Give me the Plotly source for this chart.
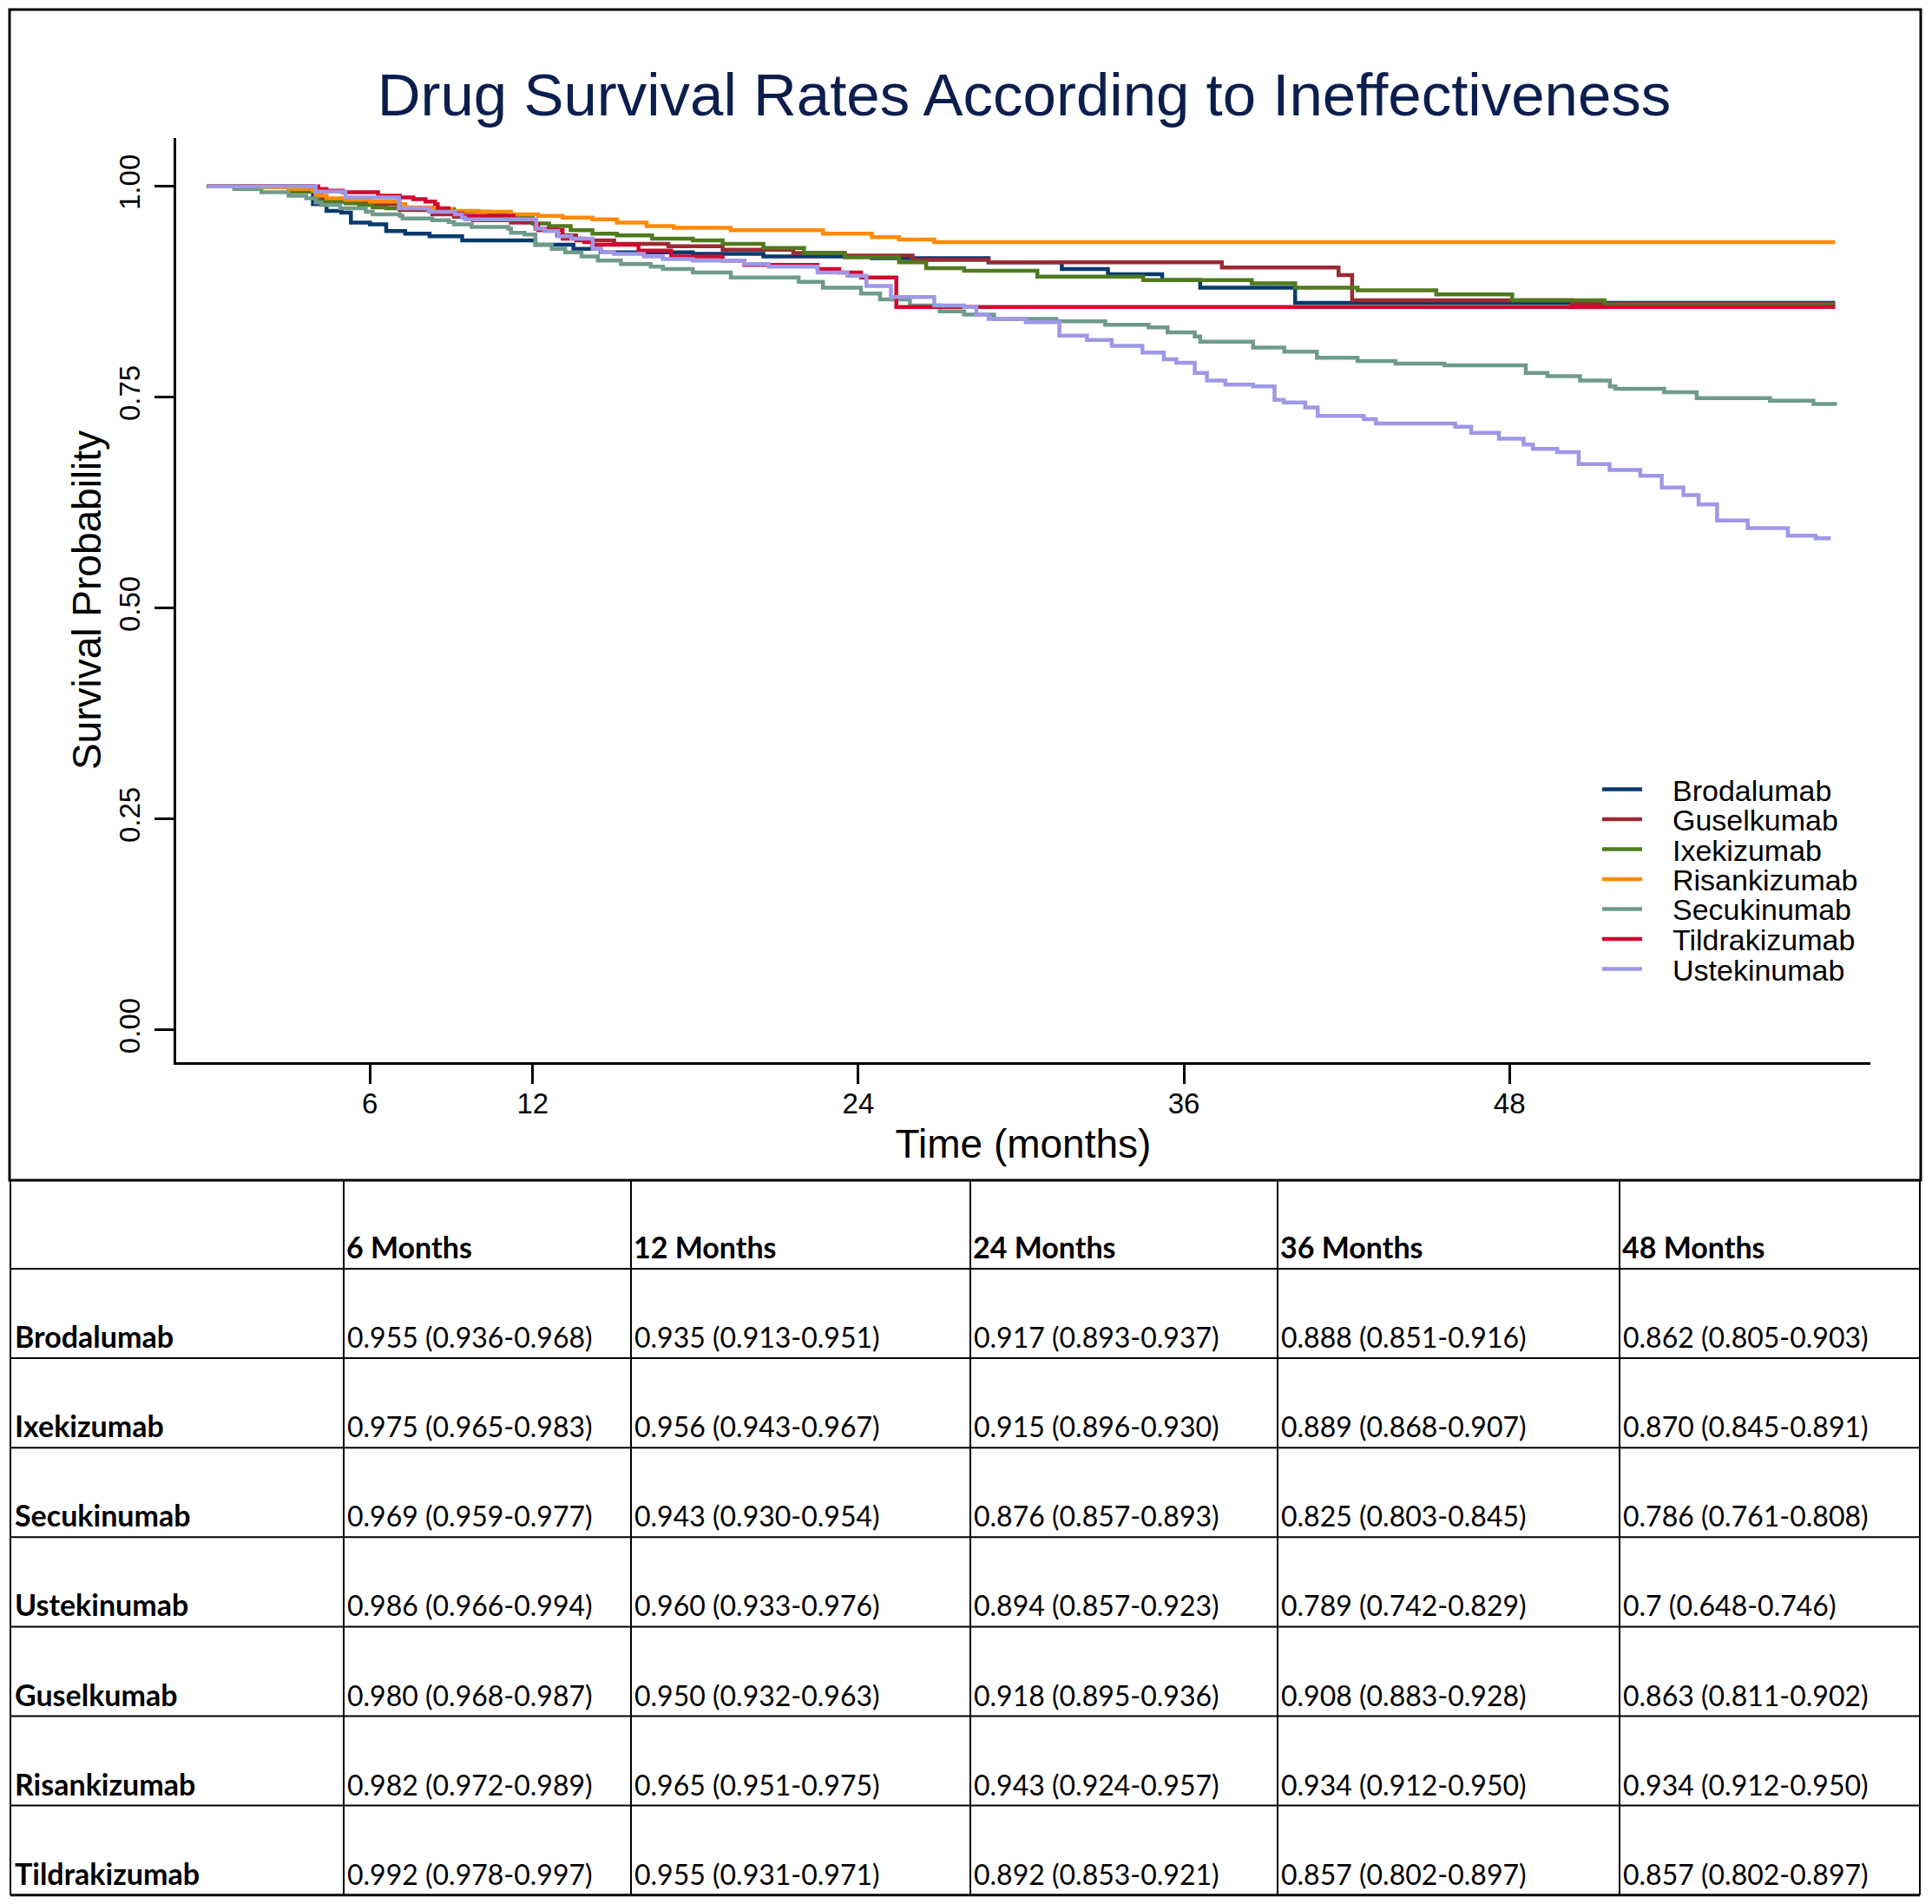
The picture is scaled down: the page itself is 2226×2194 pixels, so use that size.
import plotly.graph_objects as go

W, H = 2226, 2194          # browser window
OFF = 8                    # default body margin of the html page
FW, FH = W - 2 * OFF, H - 2 * OFF

# ---------------- survival curve data (time in months, survival probability) ----------------
drugs = ["Brodalumab", "Guselkumab", "Ixekizumab", "Risankizumab",
         "Secukinumab", "Tildrakizumab", "Ustekinumab"]
colors = ["#073a6e", "#9c2a33", "#4f7a1e", "#ff8a0a", "#6f9a8c", "#d4072e", "#9f98e6"]

brod_t = [0, 3.9, 4.4, 4.95, 5.3, 6.0, 6.6, 7.3, 8.2, 9.4, 12.1, 13.5, 14.5, 17.9, 20.5, 24.5,
          28.8, 31.5, 33.2, 35.2, 36.6, 40.1, 60.0]
brod_s = [1.0, 0.979, 0.971, 0.969, 0.957, 0.955, 0.947, 0.944, 0.941, 0.936, 0.931, 0.926, 0.922,
          0.920, 0.917, 0.915, 0.910, 0.902, 0.896, 0.889, 0.880, 0.862, 0.862]

gus_t = [0, 2.1, 3.0, 4.0, 4.2, 5.0, 6.1, 7.1, 8.3, 9.1, 9.8, 11.2, 12.1, 12.9, 13.6, 15.0, 17.0,
         19.0, 21.6, 23.5, 26.0, 28.8, 37.4, 41.7, 42.2, 50.3, 60.0]
gus_s = [1.0, 0.999, 0.997, 0.990, 0.985, 0.982, 0.979, 0.972, 0.967, 0.964, 0.960, 0.957, 0.950,
         0.942, 0.936, 0.932, 0.929, 0.925, 0.921, 0.918, 0.913, 0.910, 0.904, 0.895, 0.865, 0.861, 0.861]

ixe_t = [0, 1.0, 3.0, 4.0, 4.1, 5.1, 5.6, 6.1, 6.6, 8.3, 9.1, 10.4, 11.2, 12.0, 12.6, 13.4, 14.2,
         15.1, 16.4, 17.9, 19.0, 20.5, 22.0, 23.5, 25.5, 26.5, 27.9, 30.6, 34.5, 38.5, 40.1, 42.4,
         45.3, 48.1, 51.5, 60.0]
ixe_s = [1.0, 0.999, 0.994, 0.991, 0.982, 0.980, 0.978, 0.975, 0.974, 0.973, 0.970, 0.967, 0.964,
         0.956, 0.953, 0.948, 0.944, 0.942, 0.938, 0.936, 0.932, 0.927, 0.921, 0.916, 0.910, 0.903,
         0.900, 0.893, 0.889, 0.885, 0.880, 0.877, 0.872, 0.865, 0.860, 0.860]

ris_t = [0, 2.1, 3.0, 3.9, 4.0, 4.4, 5.1, 6.0, 7.1, 7.3, 8.3, 9.0, 10.0, 11.2, 12.2, 13.1, 14.2,
         15.1, 16.2, 17.2, 19.3, 22.7, 24.5, 25.5, 26.8, 60.0]
ris_s = [1.0, 0.999, 0.997, 0.995, 0.989, 0.986, 0.984, 0.982, 0.979, 0.975, 0.973, 0.971, 0.970,
         0.967, 0.965, 0.963, 0.961, 0.957, 0.953, 0.951, 0.948, 0.944, 0.940, 0.937, 0.934, 0.934]

sec_t = [0, 1.0, 2.0, 3.0, 3.65, 4.0, 4.2, 4.9, 5.85, 6.1, 7.1, 7.2, 8.3, 8.9, 9.1, 9.75, 11.1,
         11.2, 11.7, 12.1, 12.7, 13.2, 13.8, 14.4, 15.25, 16.35, 16.8, 17.9, 19.3, 21.8, 22.7, 24.1,
         24.8, 25.9, 27.0, 27.9, 29.0, 31.3, 33.1, 34.7, 35.4, 36.4, 36.6, 38.55, 39.7, 40.9, 42.4,
         43.8, 45.6, 48.6, 49.4, 50.6, 51.7, 51.9, 53.7, 54.9, 57.6, 59.2, 60.0]
sec_s = [1.0, 0.997, 0.993, 0.989, 0.986, 0.981, 0.978, 0.974, 0.970, 0.967, 0.965, 0.962, 0.960,
         0.958, 0.955, 0.952, 0.950, 0.945, 0.943, 0.931, 0.926, 0.922, 0.917, 0.912, 0.908, 0.905,
         0.902, 0.898, 0.892, 0.887, 0.880, 0.873, 0.866, 0.859, 0.852, 0.848, 0.843, 0.840, 0.836,
         0.833, 0.827, 0.822, 0.816, 0.809, 0.804, 0.797, 0.793, 0.790, 0.788, 0.779, 0.775, 0.770,
         0.763, 0.760, 0.756, 0.749, 0.746, 0.742, 0.740]

til_t = [0, 4.1, 4.4, 5.0, 6.3, 7.1, 7.6, 8.05, 8.4, 8.5, 8.9, 9.1, 9.4, 11.3, 12.1, 12.2, 13.1,
         13.9, 14.2, 15.9, 17.1, 19.0, 19.8, 22.5, 23.3, 24.1, 25.4, 60.0]
til_s = [1.0, 0.997, 0.995, 0.993, 0.989, 0.987, 0.985, 0.982, 0.979, 0.974, 0.970, 0.968, 0.965,
         0.960, 0.955, 0.948, 0.938, 0.934, 0.931, 0.924, 0.917, 0.912, 0.907, 0.902, 0.898, 0.892,
         0.857, 0.857]

ust_t = [0, 4.0, 5.1, 7.07, 8.17, 9.14, 9.39, 9.51, 12.13, 12.44, 12.93, 13.42, 14.21, 14.52, 15.0,
         16.1, 16.8, 17.9, 19.8, 20.7, 22.5, 23.6, 24.3, 25.2, 26.8, 27.9, 28.35, 28.8, 30.17, 31.41,
         32.43, 33.34, 34.47, 35.26, 35.72, 36.4, 36.85, 37.53, 38.55, 39.34, 39.68, 40.47, 40.93,
         42.63, 43.08, 46.0, 46.59, 47.61, 48.52, 48.86, 49.76, 50.55, 51.69, 52.82, 53.61, 54.41,
         54.97, 55.65, 56.78, 58.26, 59.28, 59.84]
ust_s = [1.0, 0.994, 0.987, 0.974, 0.970, 0.967, 0.963, 0.961, 0.950, 0.947, 0.941, 0.938, 0.926,
         0.922, 0.920, 0.917, 0.914, 0.912, 0.908, 0.905, 0.898, 0.894, 0.882, 0.869, 0.859, 0.857,
         0.848, 0.843, 0.839, 0.823, 0.818, 0.811, 0.803, 0.795, 0.791, 0.779, 0.770, 0.765, 0.763,
         0.747, 0.744, 0.738, 0.728, 0.724, 0.719, 0.715, 0.708, 0.701, 0.694, 0.689, 0.685, 0.671,
         0.664, 0.657, 0.643, 0.634, 0.623, 0.604, 0.595, 0.586, 0.583, 0.583]

curve_times = [brod_t, gus_t, ixe_t, ris_t, sec_t, til_t, ust_t]
curve_surv = [brod_s, gus_s, ixe_s, ris_s, sec_s, til_s, ust_s]

x_ticks = [6, 12, 24, 36, 48]
y_ticks = [0.0, 0.25, 0.50, 0.75, 1.00]
y_ticklabels = ["0.00", "0.25", "0.50", "0.75", "1.00"]

# ---------------- table data ----------------
table_header = ["6 Months", "12 Months", "24 Months", "36 Months", "48 Months"]
table_rows = ["Brodalumab", "Ixekizumab", "Secukinumab", "Ustekinumab",
              "Guselkumab", "Risankizumab", "Tildrakizumab"]
brod_row = ["0.955 (0.936-0.968)", "0.935 (0.913-0.951)", "0.917 (0.893-0.937)", "0.888 (0.851-0.916)", "0.862 (0.805-0.903)"]
ixe_row = ["0.975 (0.965-0.983)", "0.956 (0.943-0.967)", "0.915 (0.896-0.930)", "0.889 (0.868-0.907)", "0.870 (0.845-0.891)"]
sec_row = ["0.969 (0.959-0.977)", "0.943 (0.930-0.954)", "0.876 (0.857-0.893)", "0.825 (0.803-0.845)", "0.786 (0.761-0.808)"]
ust_row = ["0.986 (0.966-0.994)", "0.960 (0.933-0.976)", "0.894 (0.857-0.923)", "0.789 (0.742-0.829)", "0.7 (0.648-0.746)"]
gus_row = ["0.980 (0.968-0.987)", "0.950 (0.932-0.963)", "0.918 (0.895-0.936)", "0.908 (0.883-0.928)", "0.863 (0.811-0.902)"]
ris_row = ["0.982 (0.972-0.989)", "0.965 (0.951-0.975)", "0.943 (0.924-0.957)", "0.934 (0.912-0.950)", "0.934 (0.912-0.950)"]
til_row = ["0.992 (0.978-0.997)", "0.955 (0.931-0.971)", "0.892 (0.853-0.921)", "0.857 (0.802-0.897)", "0.857 (0.802-0.897)"]
table_values = [brod_row, ixe_row, sec_row, ust_row, gus_row, ris_row, til_row]

# ---------------- helpers (window pixel -> paper) ----------------
def px(x):
    return (x - OFF) / FW

def py(y):
    return 1 - (y - OFF) / FH

fig = go.Figure()

for name, col, tt, ss in zip(drugs, colors, curve_times, curve_surv):
    fig.add_trace(go.Scatter(x=tt, y=ss, mode="lines", name=name,
                             line=dict(color=col, width=4.5, shape="hv"),
                             showlegend=False))

SANS = "Liberation Sans, Arial, sans-serif"
axis_font = dict(family=SANS, size=33, color="black")

fig.update_layout(
    width=FW, height=FH,
    margin=dict(l=0, r=0, t=0, b=0),
    paper_bgcolor="white", plot_bgcolor="white",
    showlegend=False,
    xaxis=dict(domain=[px(203), px(2155)], range=[-1.14, 61.3],
               tickvals=x_ticks, ticktext=[str(v) for v in x_ticks],
               ticks="outside", ticklen=22, tickwidth=3, tickcolor="black",
               ticklabelstandoff=-6,
               showline=True, linewidth=3, linecolor="black",
               showgrid=False, zeroline=False, tickfont=axis_font,
               title=dict(text="Time (months)",
                          font=dict(family=SANS, size=46, color="black"),
                          standoff=14)),
    yaxis=dict(domain=[py(1224), py(159)], range=[-0.0381, 1.0574],
               tickvals=y_ticks, ticktext=y_ticklabels, tickangle=-90,
               ticks="outside", ticklen=22, tickwidth=3, tickcolor="black",
               ticklabelstandoff=4,
               showline=True, linewidth=3, linecolor="black",
               showgrid=False, zeroline=False, tickfont=axis_font,
               title=dict(text="Survival Probability",
                          font=dict(family=SANS, size=46, color="black"),
                          standoff=0)),
    title=dict(text="Drug Survival Rates According to Ineffectiveness",
               font=dict(family=SANS, size=69, color="#0c1e4e"),
               x=px(1180), xanchor="center", y=py(109), yanchor="middle"),
)

shapes = []
annotations = []

# legend (drawn manually to reproduce the tight R legend spacing)
leg_y0, leg_dy = 909.5, 34.5
for i, (name, col) in enumerate(zip(drugs, colors)):
    yy = leg_y0 + i * leg_dy
    shapes.append(dict(type="line", xref="paper", yref="paper",
                       x0=px(1846), x1=px(1892), y0=py(yy), y1=py(yy),
                       line=dict(color=col, width=4.5)))
    annotations.append(dict(text=name, xref="paper", yref="paper", x=px(1925), y=py(yy + 1),
                            xanchor="left", yanchor="middle", showarrow=False,
                            font=dict(family=SANS, size=34, color="black")))

# outer box around the plot
shapes.append(dict(type="rect", xref="paper", yref="paper",
                   x0=px(11), x1=px(2213), y0=py(1360), y1=py(11),
                   line=dict(color="black", width=3), fillcolor="rgba(0,0,0,0)"))

# table grid
col_edges = [12, 396, 727, 1118, 1472, 1866, 2212]
row_edges = [1360, 1462, 1565.1, 1668.2, 1771.3, 1874.4, 1977.5, 2080.6, 2183.7]
for yy in row_edges[1:]:
    shapes.append(dict(type="line", xref="paper", yref="paper",
                       x0=px(col_edges[0]), x1=px(col_edges[-1]), y0=py(yy), y1=py(yy),
                       line=dict(color="black", width=3 if yy == row_edges[-1] else 2)))
for xx in col_edges:
    shapes.append(dict(type="line", xref="paper", yref="paper",
                       x0=px(xx), x1=px(xx), y0=py(row_edges[0]), y1=py(row_edges[-1]),
                       line=dict(color="black", width=2)))

tfont = "Lato, Open Sans, sans-serif"
tsize = 32
bsize = 34
# header
for j, h in enumerate(table_header):
    annotations.append(dict(text="<b>" + h + "</b>", xref="paper", yref="paper",
                            x=px(col_edges[j + 1] + 1), y=py(row_edges[1] - 3),
                            xanchor="left", yanchor="bottom", showarrow=False,
                            font=dict(family=tfont, size=bsize, color="black")))
# rows
for i, (rname, vals) in enumerate(zip(table_rows, table_values)):
    ybot = row_edges[i + 2] - 3
    annotations.append(dict(text="<b>" + rname + "</b>", xref="paper", yref="paper",
                            x=px(col_edges[0] + 3), y=py(ybot),
                            xanchor="left", yanchor="bottom", showarrow=False,
                            font=dict(family=tfont, size=bsize, color="black")))
    for j, v in enumerate(vals):
        annotations.append(dict(text=v, xref="paper", yref="paper",
                                x=px(col_edges[j + 1] + 2), y=py(ybot),
                                xanchor="left", yanchor="bottom", showarrow=False,
                                font=dict(family=tfont, size=tsize, color="black")))

fig.update_layout(shapes=shapes, annotations=annotations)

fig.write_html("out.html")
